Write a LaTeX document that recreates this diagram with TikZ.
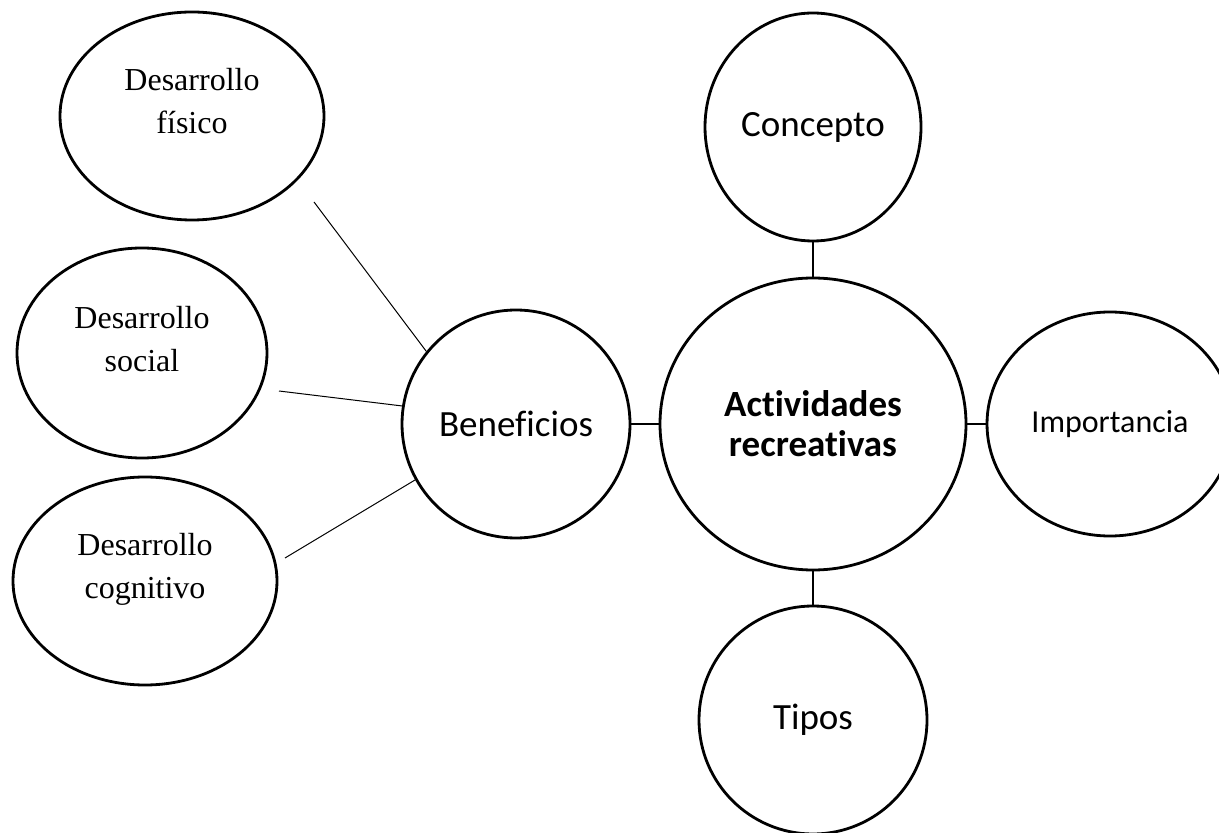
\documentclass[tikz,border=0pt]{standalone}
\usepackage{fontspec}
\setmainfont{Liberation Serif}
\newfontfamily\calibri[Ligatures=NoCommon]{Carlito}
\usetikzlibrary{shapes.geometric}

\tikzset{
  bubble/.style={draw, ellipse, line width=1.4pt, inner sep=0pt},
  link/.style={line width=1.2pt},
  thinlink/.style={line width=0.5pt},
  cal/.style={font=\calibri\fontsize{18.5}{22}\selectfont},
  rom/.style={font=\fontsize{16}{21.5}\selectfont, align=center},
}

\begin{document}
\begin{tikzpicture}[x=0.5pt, y=-0.5pt]
  %tikz  mapa, actividades recreativas
  \useasboundingbox (0,0) rectangle (1219,833);

  \node[bubble, minimum width=153pt, minimum height=146pt, align=center,
        font=\calibri\bfseries\fontsize{18.5}{20}\selectfont] (act) at (813,424) {Actividades\\recreativas};
  \node[bubble, minimum width=108pt, minimum height=114pt, cal] (conc) at (813,127) {Concepto};
  \node[bubble, minimum width=114pt, minimum height=114pt, cal] (tipos) at (813,720) {Tipos};
  \node[bubble, minimum width=123pt, minimum height=112pt,
        font=\calibri\fontsize{16}{20}\selectfont] (imp) at (1110,424) {Importancia};
  \node[bubble, minimum width=114pt, minimum height=114pt, cal] (ben) at (516,424) {Beneficios};

  \node[bubble, minimum width=132pt, minimum height=104pt] (fis) at (192,116) {};
  \node[rom] (fistxt) at (192,101) {Desarrollo\\físico};
  \node[bubble, minimum width=125pt, minimum height=105pt] (soc) at (142,353) {};
  \node[rom] (soctxt) at (142,339) {Desarrollo\\social};
  \node[bubble, minimum width=132pt, minimum height=104pt] (cog) at (145,581) {};
  \node[rom] (cogtxt) at (145,569) {Desarrollo\\cognitivo};

  \coordinate (fisend) at (314,202);
  \coordinate (socend) at (279,391);
  \coordinate (cogend) at (285,558);

  \draw[link] (conc) -- (act);
  \draw[link] (act) -- (tipos);
  \draw[link] (ben) -- (act);
  \draw[link] (act) -- (imp);
  \draw[thinlink] (fisend) -- (ben.141);
  \draw[thinlink] (socend) -- (ben.171);
  \draw[thinlink] (cogend) -- (ben.209);
\end{tikzpicture}
\end{document}
